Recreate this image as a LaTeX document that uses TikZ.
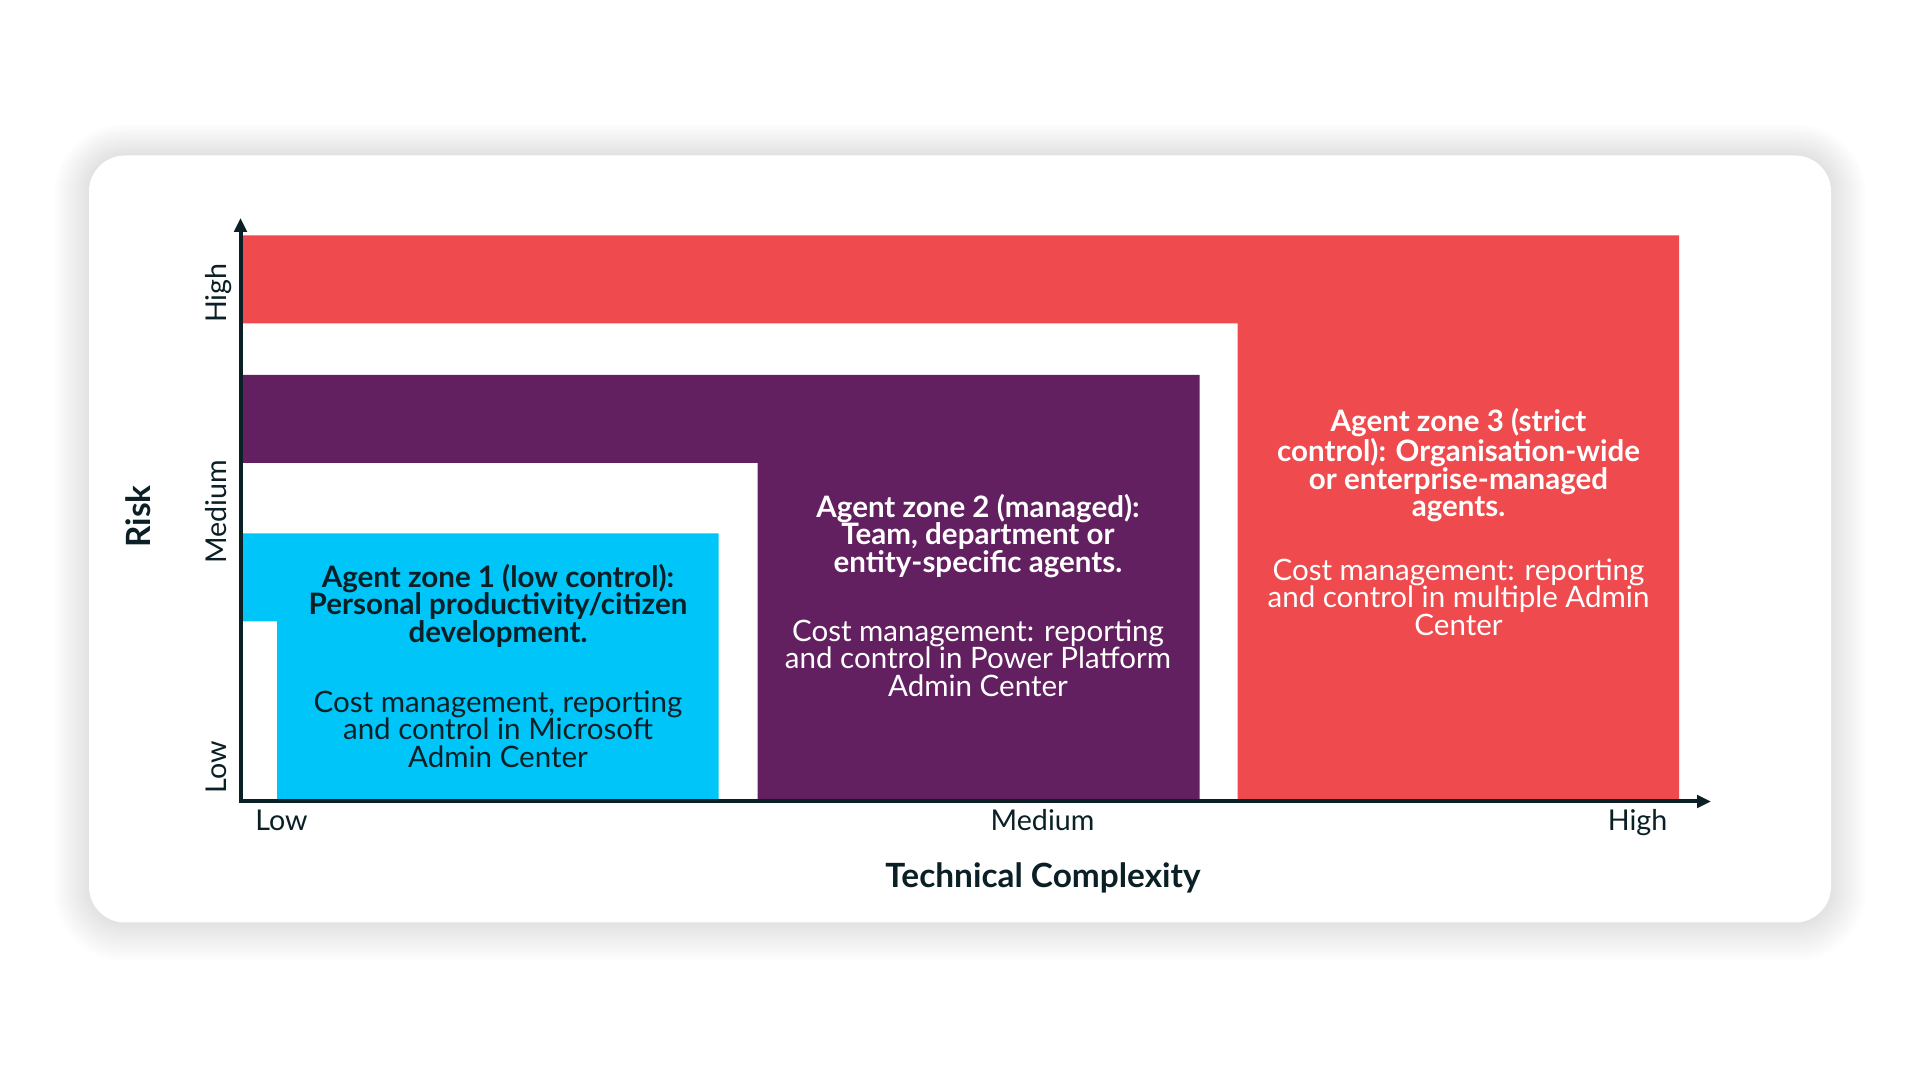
\documentclass[tikz,border=0pt]{standalone}
\usepackage{fontspec}
\setmainfont{Lato}
\usepackage{tikz}
\usetikzlibrary{arrows.meta}
\definecolor{zred}{HTML}{EF4B4E}
\definecolor{zpurple}{HTML}{632060}
\definecolor{zcyan}{HTML}{00C5F8}
\definecolor{ink}{HTML}{0B2026}
\tikzset{
  ztitle/.style={align=center, anchor=base, inner sep=0pt, font=\fontsize{16.8}{15.76}\selectfont\bfseries},
  zbody/.style={align=center, anchor=base, inner sep=0pt, font=\fontsize{16.8}{15.76}\selectfont},
  tick/.style={anchor=base, inner sep=0pt, text=ink, font=\fontsize{16.3}{18}\selectfont},
  axlbl/.style={anchor=base, inner sep=0pt, text=ink, font=\fontsize{19}{22}\selectfont\bfseries},
  axis/.style={line width=0.08cm, draw=ink, {Triangle[length=2.8mm,width=2.5mm]}-{Triangle[length=2.8mm,width=2.5mm]}},
}
\begin{document}
\begin{tikzpicture}[
  card/.style={fill=white, rounded corners=0.72cm},
  glow/.style={fill=black, opacity=0.007}]
\useasboundingbox (0,0) rectangle (38.4,21.6);
\fill[white] (0,0) rectangle (38.4,21.6);
% card and its shadow
\foreach \k in {1,...,14}
  \fill[glow, rounded corners=0.72cm+\k*0.05cm] (1.78-\k*0.05,3.15-\k*0.055) rectangle (36.62+\k*0.05,18.49+\k*0.045);
\fill[card] (1.78,3.15) rectangle (36.62,18.49);
% zones
\fill[zred] (4.81,16.89) -- (33.58,16.89) -- (33.58,5.57) -- (24.75,5.57) -- (24.75,15.13) -- (4.81,15.13) -- cycle;
\fill[zpurple] (4.81,14.10) -- (23.99,14.10) -- (23.99,5.57) -- (15.15,5.57) -- (15.15,12.34) -- (4.81,12.34) -- cycle;
\fill[zcyan] (4.81,10.93) -- (14.37,10.93) -- (14.37,5.57) -- (5.54,5.57) -- (5.54,9.17) -- (4.81,9.17) -- cycle;
% axes
\coordinate (ytip) at (4.81,17.24);
\coordinate (xtip) at (34.22,5.57);
\draw[axis] (ytip) |- (xtip);
\node[tick, rotate=90] (yhigh) at (4.53,15.74) {High};
\node[tick, rotate=90] (ymed) at (4.53,11.36) {Medium};
\node[tick, rotate=90] (ylow) at (4.53,6.25) {Low};
\node[axlbl, rotate=90] (risk) at (3.01,11.27) {Risk};
\node[tick] (xlow) at (5.63,4.98) {Low};
\node[tick] (xmed) at (20.85,4.98) {Medium};
\node[tick] (xhigh) at (32.75,4.98) {High};
\node[axlbl] (tech) at (20.86,3.84) {Technical Complexity};
% zone texts (base = last line)
\node[ztitle, text=ink] (z1t) at (9.96,8.75) {Agent zone 1 (low control):\\Personal productivity/citizen\\development.};
\node[zbody, text=ink] (z1b) at (9.96,6.25) {Cost management, reporting\\and control in Microsoft\\Admin Center};
\node[ztitle, text=white] (z2t) at (19.56,10.15) {Agent zone 2 (managed):\\Team, department or\\entity-specific agents.};
\node[zbody, text=white] (z2b) at (19.56,7.67) {Cost management: reporting\\and control in Power Platform\\Admin Center};
\node[ztitle, text=white] (z3t) at (29.17,11.26) {Agent zone 3 (strict\\control): Organisation-wide\\or enterprise-managed\\agents.};
\node[zbody, text=white] (z3b) at (29.17,8.89) {Cost management: reporting\\and control in multiple Admin\\Center};
\end{tikzpicture}
\end{document}
